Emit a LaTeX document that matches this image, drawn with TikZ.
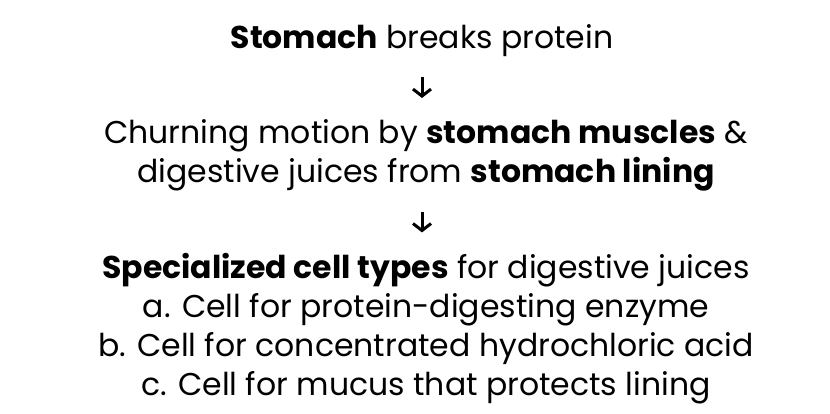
\documentclass[tikz,border=0pt]{standalone}
\usepackage{fontspec}
\setmainfont{Poppins}
\usetikzlibrary{arrows.meta}
\tikzset{
  flowtext/.style={font=\fontsize{31.5}{39}\selectfont, align=center, inner sep=0pt},
  flowarrow/.style={line width=3pt, -{Straight Barb[length=7pt,width=18pt,line width=3pt]}}
}
\begin{document}
\begin{tikzpicture}[x=1pt, y=-1pt]
\useasboundingbox (0,0) rectangle (830,414);

\node [flowtext] (stomach) at (422,41) {\textbf{Stomach} breaks protein};
\node [flowtext] (churn) at (426,155) {Churning motion by \textbf{stomach muscles} \&\\
digestive juices from \textbf{stomach lining}};
\node [flowtext] (cells) at (426,329) {\textbf{Specialized cell types} for digestive juices\\
a. Cell for protein-digesting enzyme\\
b. Cell for concentrated hydrochloric acid\\
c. Cell for mucus that protects lining};

% arrows between the steps
\draw [flowarrow, shorten <=20pt, shorten >=21pt] (stomach.south) -- (stomach.south |- churn.north);
\draw [flowarrow, shorten <=21pt, shorten >=21pt] (stomach.south |- churn.south) -- (stomach.south |- cells.north);
\end{tikzpicture}
\end{document}
